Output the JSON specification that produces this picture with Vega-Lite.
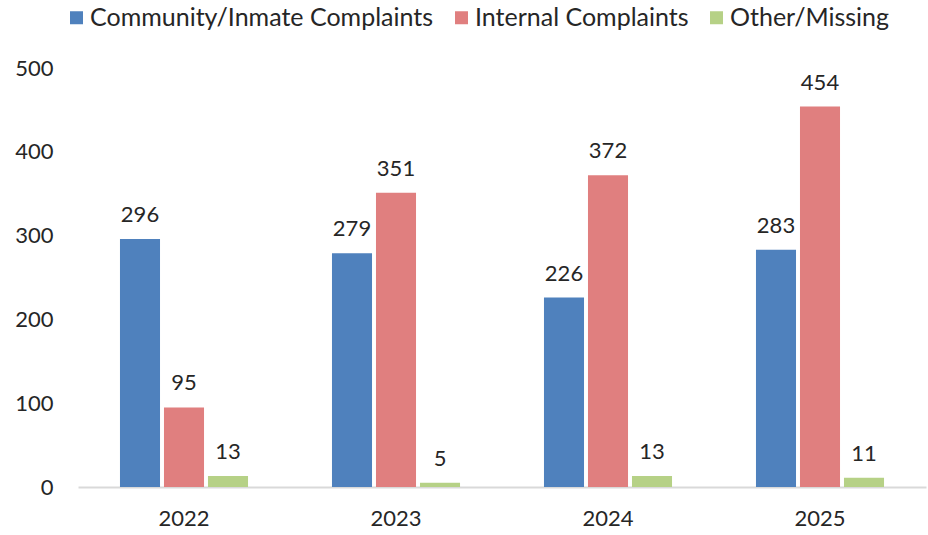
{
  "$schema": "https://vega.github.io/schema/vega-lite/v6.json",
  "autosize": {"type": "none"},
  "width": 848,
  "height": 419,
  "padding": {"left": 78, "top": 68, "right": 2, "bottom": 48},
  "background": "white",
  "config": {
    "view": {"stroke": null},
    "font": "Lato",
    "axis": {"labelFont": "Lato", "labelColor": "#262626", "labelFontSize": 22, "grid": false}
  },
  "data": {
    "values": [
      {"year": "2022", "type": "Community/Inmate Complaints", "count": 296},
      {"year": "2022", "type": "Internal Complaints", "count": 95},
      {"year": "2022", "type": "Other/Missing", "count": 13},
      {"year": "2023", "type": "Community/Inmate Complaints", "count": 279},
      {"year": "2023", "type": "Internal Complaints", "count": 351},
      {"year": "2023", "type": "Other/Missing", "count": 5},
      {"year": "2024", "type": "Community/Inmate Complaints", "count": 226},
      {"year": "2024", "type": "Internal Complaints", "count": 372},
      {"year": "2024", "type": "Other/Missing", "count": 13},
      {"year": "2025", "type": "Community/Inmate Complaints", "count": 283},
      {"year": "2025", "type": "Internal Complaints", "count": 454},
      {"year": "2025", "type": "Other/Missing", "count": 11}
    ]
  },
  "encoding": {
    "x": {
      "field": "year", "type": "nominal", "title": null,
      "scale": {"paddingInner": 0.396, "paddingOuter": 0.198},
      "axis": {"labelAngle": 0, "domainColor": "#D9D9D9", "domainWidth": 2, "ticks": false, "labelPadding": 21}
    },
    "xOffset": {
      "field": "type", "type": "nominal",
      "sort": ["Community/Inmate Complaints", "Internal Complaints", "Other/Missing"],
      "scale": {"paddingInner": 0.09, "paddingOuter": 0}
    },
    "y": {
      "field": "count", "type": "quantitative", "title": null,
      "scale": {"domain": [0, 500], "nice": false},
      "axis": {"values": [0, 100, 200, 300, 400, 500], "domain": false, "ticks": false, "labelPadding": 25}
    }
  },
  "layer": [
    {
      "mark": {"type": "bar"},
      "encoding": {
        "color": {
          "field": "type", "type": "nominal",
          "sort": ["Community/Inmate Complaints", "Internal Complaints", "Other/Missing"],
          "scale": {
            "domain": ["Community/Inmate Complaints", "Internal Complaints", "Other/Missing"],
            "range": ["#4F81BD", "#E07F7F", "#B6D186"]
          },
          "legend": {
            "title": null,
            "orient": "none",
            "legendX": -14,
            "legendY": -63,
            "direction": "horizontal",
            "columns": 3,
            "symbolType": "square",
            "symbolSize": 169,
            "symbolStrokeWidth": 0,
            "labelFont": "Lato",
            "labelFontSize": 25,
            "labelColor": "#262626",
            "labelLimit": 500,
            "labelOffset": 1,
            "columnPadding": 15
          }
        }
      }
    },
    {
      "mark": {"type": "text", "baseline": "bottom", "dy": -12, "fontSize": 22, "font": "Lato", "color": "#262626"},
      "encoding": {"text": {"field": "count", "type": "quantitative"}}
    }
  ]
}
